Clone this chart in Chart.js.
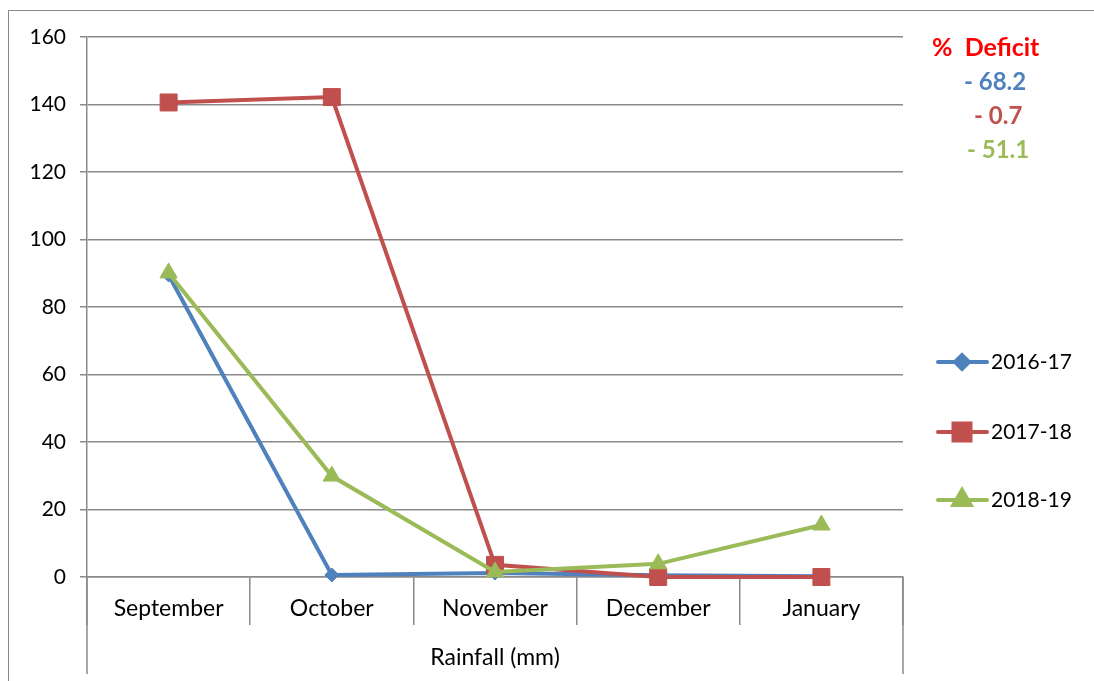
<!DOCTYPE html>
<html><head><meta charset="utf-8">
<script src="https://cdn.jsdelivr.net/npm/chart.js@4"></script>
<style>
html,body{margin:0;padding:0;background:#fff;}
#wrap{position:relative;width:1094px;height:681px;overflow:hidden;}
#frame{position:absolute;left:8px;top:10px;width:1200px;height:800px;border:1.5px solid #8a8a8a;}
#c{position:absolute;left:0;top:0;}
</style></head>
<body>
<div id="wrap"><div id="frame"></div><canvas id="c" width="1094" height="681"></canvas></div>
<script>
const categories = ['September','October','November','December','January'];
const seriesLabels = ['2016-17','2017-18','2018-19'];
const s2016 = [89.5, 0.6, 1.2, 0.5, 0.2];
const s2017 = [140.6, 142.2, 3.6, 0, 0];
const s2018 = [90.1, 29.9, 1.5, 3.9, 15.4];
const yTicks = [0,20,40,60,80,100,120,140,160];
const axisTitle = 'Rainfall (mm)';
const deficitTitle = '%  Deficit';
const deficitValues = ['- 68.2','- 0.7','- 51.1'];

const colors = ['#4F81BD','#C0504D','#9BBB59'];
const styles = ['rectRot','rect','triangle'];
const radii = [7, 12, 10];
const drawOrder = [2, 1, 0];
const FONT = 'Lato, "Open Sans", sans-serif';

const L=87, R=903, T=37, B=577;

const extras = {
  id:'extras',
  afterDraw(chart){
    const ctx = chart.ctx;
    const xs = chart.scales.x;
    ctx.save();
    ctx.strokeStyle = '#8a8a8a';
    ctx.lineWidth = 1.5;
    [xs.left, xs.right].forEach(x=>{
      ctx.beginPath(); ctx.moveTo(x, B); ctx.lineTo(x, 674); ctx.stroke();
    });
    ctx.fillStyle = '#000';
    ctx.font = '23px ' + FONT;
    ctx.textAlign = 'center'; ctx.textBaseline = 'middle';
    ctx.fillText(axisTitle, (xs.left+xs.right)/2, 658);
    ctx.font = 'bold 25px ' + FONT;
    ctx.fillStyle = '#FF0000';
    ctx.textAlign = 'left';
    ctx.fillText(deficitTitle, 932, 48);
    const dx = [964, 974, 967];
    deficitValues.forEach((t,i)=>{
      ctx.fillStyle = colors[i];
      ctx.font = 'bold 24px ' + FONT;
      ctx.fillText(t, dx[i], 82 + i*34);
    });
    const ly = [362, 432, 500];
    chart.data.datasets.forEach((ds,i)=>{
      const y = ly[i];
      ctx.strokeStyle = ds.borderColor; ctx.lineWidth = 4; ctx.lineCap='round';
      ctx.beginPath(); ctx.moveTo(938, y); ctx.lineTo(987, y); ctx.stroke();
      Chart.helpers.drawPoint(ctx, {pointStyle: ds.pointStyle, radius: ds.pointRadius, rotation:0, borderWidth:1}, 962, y);
      ctx.fillStyle = ds.borderColor;
      ctx.fill();
      ctx.fillStyle = '#000';
      ctx.font = '21px ' + FONT;
      ctx.textAlign='left';
      ctx.fillText(ds.label, 991, y);
    });
    ctx.restore();
  }
};

const datasets = [s2016, s2017, s2018].map((d,i)=>({
  label: seriesLabels[i],
  data: d,
  order: drawOrder[i],
  clip: false,
  borderColor: colors[i],
  backgroundColor: colors[i],
  borderWidth: 4,
  pointStyle: styles[i],
  pointRadius: radii[i],
  pointHoverRadius: radii[i],
  pointBorderWidth: 1,
  tension: 0
}));

new Chart(document.getElementById('c'), {
  type:'line',
  data:{labels:categories, datasets},
  plugins:[extras],
  options:{
    responsive:false, animation:false,
    layout:{padding:{left:0, right:1094-R, top:T, bottom:0}},
    plugins:{legend:{display:false}, tooltip:{enabled:false}},
    scales:{
      x:{
        offset:true,
        grid:{offset:true, drawOnChartArea:false, drawTicks:true, tickLength:48, color:'#8a8a8a', lineWidth:1.5},
        border:{color:'#8a8a8a', width:1.5},
        ticks:{color:'#000', font:{family:FONT, size:23}, padding:-30},
        afterFit(s){ s.height = 681 - B; }
      },
      y:{
        min:0, max:160,
        afterBuildTicks(s){ s.ticks = yTicks.map(v=>({value:v})); },
        grid:{color:'#8a8a8a', lineWidth:1.5, tickLength:7},
        border:{color:'#8a8a8a', width:1.5},
        ticks:{color:'#000', font:{family:FONT, size:21}, padding:14},
        afterFit(s){ s.width = L; }
      }
    }
  }
});
</script>
</body></html>
